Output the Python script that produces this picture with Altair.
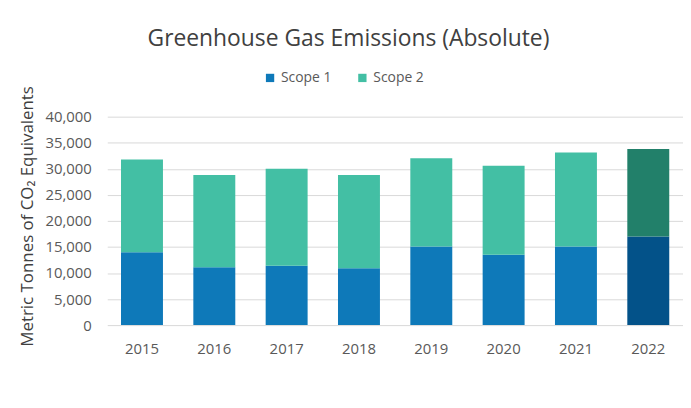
import altair as alt
import pandas as pd

years = ["2015", "2016", "2017", "2018", "2019", "2020", "2021", "2022"]
scope1 = [14000, 11100, 11400, 10900, 15100, 13500, 15100, 17000]
scope2 = [17800, 17700, 18600, 17900, 16900, 17100, 18000, 16800]
series = ["Scope 1", "Scope 2"]
highlight_year = "2022"
keys = ["Scope 1", "Scope 2", "Scope 1 (2022)", "Scope 2 (2022)"]
colors = ["#0E79B9", "#43BFA4", "#035289", "#22806A"]

rows = []
for y, a, b in zip(years, scope1, scope2):
    for i, (s, v) in enumerate(zip(series, [a, b])):
        key = s if y != highlight_year else f"{s} (2022)"
        rows.append({"year": y, "series": s, "value": v, "ord": i, "key": key})
df = pd.DataFrame(rows)

FONT = "Open Sans"

chart = (
    alt.Chart(df)
    .mark_bar()
    .encode(
        x=alt.X(
            "year:N",
            sort=years,
            title=None,
            scale=alt.Scale(paddingInner=0.42, paddingOuter=0.19),
            axis=alt.Axis(
                labelAngle=0, ticks=False, domain=False, grid=False,
                labelPadding=17, labelFontSize=15, labelColor="#595959", labelFont=FONT,
            ),
        ),
        y=alt.Y(
            "value:Q",
            stack="zero",
            scale=alt.Scale(domain=[0, 40000], nice=False),
            axis=alt.Axis(
                values=list(range(0, 40001, 5000)), format=",.0f",
                ticks=False, domain=False, grid=True, gridColor="#d9d9d9", gridWidth=1,
                labelPadding=16, labelFontSize=15, labelColor="#595959", labelFont=FONT,
                title="Metric Tonnes of CO\u2082 Equivalents",
                titleFont=FONT, titleFontSize=17, titleFontWeight="normal", titleColor="#404040",
                titleAngle=270, titleX=-80, titleY=100, titleAlign="center", titleBaseline="middle",
            ),
        ),
        color=alt.Color(
            "key:N",
            scale=alt.Scale(domain=keys, range=colors),
            legend=alt.Legend(
                values=series, title=None, orient="none", direction="horizontal",
                legendX=157, legendY=-46, symbolType="square", symbolSize=70,
                symbolStrokeWidth=0, labelFontSize=14, labelColor="#595959", labelFont=FONT,
                columnPadding=24, padding=0, labelOffset=4,
            ),
        ),
        order=alt.Order("ord:Q", sort="ascending"),
    )
    .properties(
        width=580,
        height=210,
        padding={"left": 100, "top": 108, "right": 0, "bottom": 74},
        autosize=alt.AutoSizeParams(type="none"),
        background="white",
        title=alt.TitleParams(
            "Greenhouse Gas Emissions (Absolute)",
            anchor="middle", dx=-47, offset=20, fontSize=23, fontWeight="normal",
            color="#404040", font=FONT,
        ),
    )
    .configure_view(stroke=None)
)

chart.save("out.html", embed_options={"renderer": "svg", "actions": False})
